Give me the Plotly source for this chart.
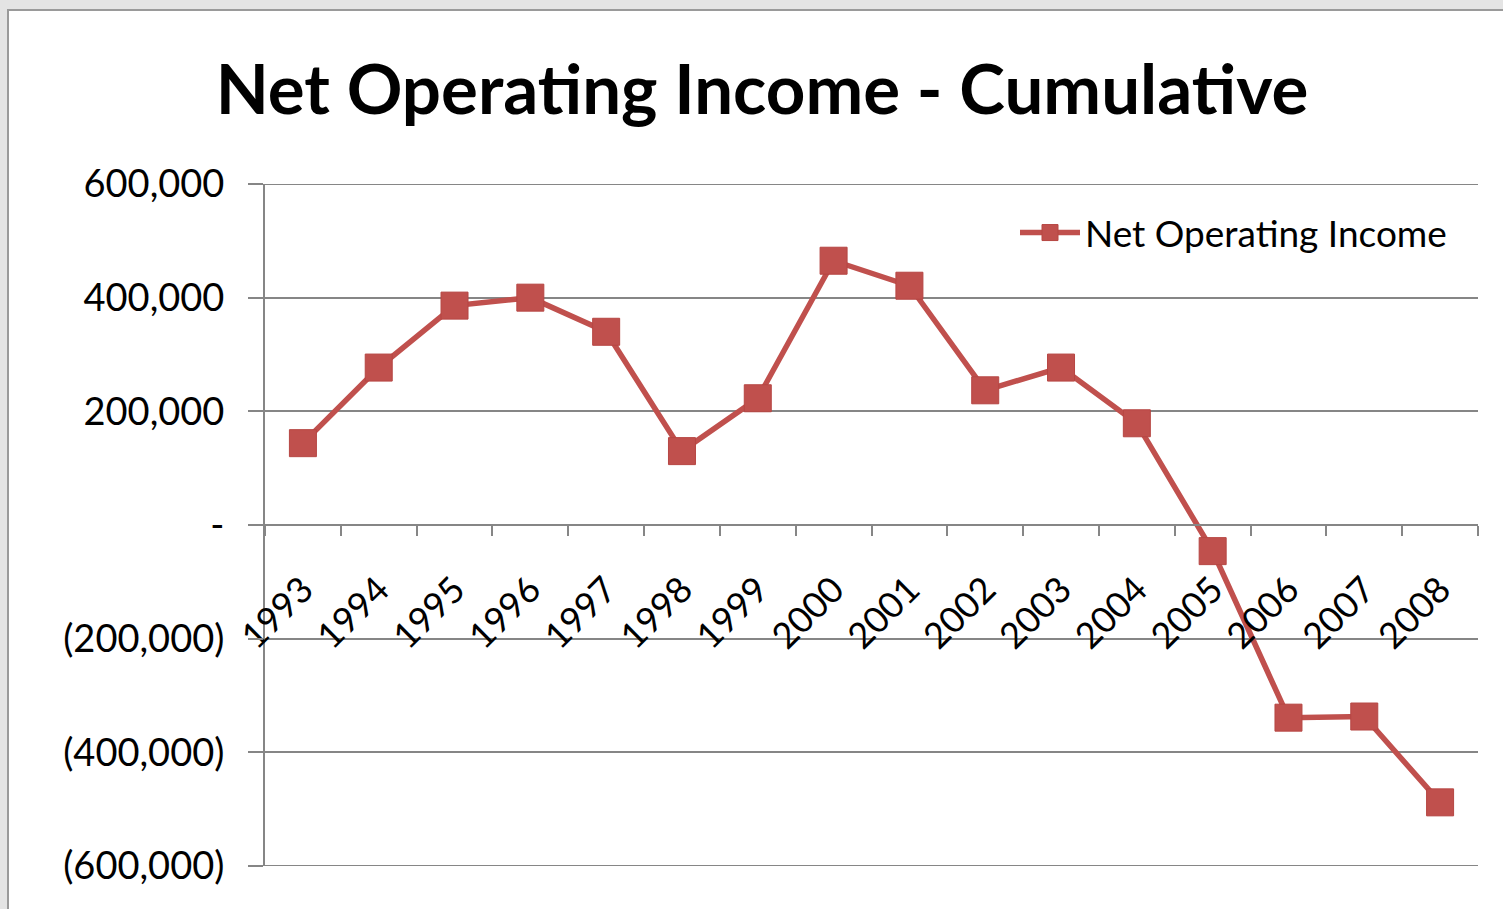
import plotly.graph_objects as go

years = ["1993", "1994", "1995", "1996", "1997", "1998", "1999", "2000",
         "2001", "2002", "2003", "2004", "2005", "2006", "2007", "2008"]
net_operating_income = [144000, 277000, 386000, 400000, 340000, 130000, 223000, 465000,
                        421000, 237000, 277000, 179000, -46000, -339000, -337000, -488000]
y_tick_values = [600000, 400000, 200000, 0, -200000, -400000, -600000]
y_tick_labels = ["600,000", "400,000", "200,000", "-", "(200,000)", "(400,000)", "(600,000)"]

W, H = 1503, 909
L, R, T, B = 265, 25, 184, 43
pw, ph = W - L - R, H - T - B


def px(x):
    return (x - L) / pw


def py(y):
    return (H - B - y) / ph


fig = go.Figure()
fig.add_trace(go.Scatter(
    x=years, y=net_operating_income, mode="lines+markers",
    name="Net Operating Income",
    line=dict(color="#c0504d", width=5.5),
    marker=dict(symbol="square", size=27, color="#c0504d",
                line=dict(color="#b64643", width=1)),
))

fig.add_shape(type="rect", xref="paper", yref="paper",
              x0=px(8), x1=px(1530), y0=py(940), y1=py(10),
              fillcolor="white", line=dict(color="#9a9a9a", width=2), layer="below")

# gridlines at the range ends (plotly omits them at the plot edges)
for v in (y_tick_values[0], y_tick_values[-1]):
    fig.add_shape(type="line", xref="paper", yref="y", x0=0, x1=1, y0=v, y1=v,
                  line=dict(color="#868686", width=2), layer="below")

fig.update_layout(
    width=W, height=H,
    margin=dict(l=L, r=R, t=T, b=B),
    paper_bgcolor="#e4e4e4", plot_bgcolor="rgba(0,0,0,0)",
    font=dict(family="Lato", color="black"),
    title=dict(text="<b>Net Operating Income - Cumulative</b>",
               x=px(762), xanchor="center", xref="paper",
               y=1 - 90 / H, yanchor="middle",
               font=dict(size=69, family="Lato", color="black")),
    showlegend=True,
    legend=dict(x=px(1452), xanchor="right", y=py(233), yanchor="middle",
                bgcolor="rgba(0,0,0,0)", font=dict(size=37, family="Lato"),
                itemwidth=60),
    xaxis=dict(type="category", range=[-0.5, 15.5], anchor="free", position=0.5,
               showgrid=False, showline=True, linecolor="#868686", linewidth=2,
               ticks="outside", tickson="boundaries", ticklen=10, tickwidth=2,
               tickcolor="#868686", tickangle=-45, ticklabelstandoff=28,
               tickfont=dict(size=36, family="Lato", color="black")),
    yaxis=dict(range=[-600000, 600000], domain=[0, 1],
               tickvals=y_tick_values, ticktext=y_tick_labels,
               showgrid=True, gridcolor="#868686", gridwidth=2,
               showline=True, linecolor="#868686", linewidth=2,
               ticks="outside", ticklen=15, tickwidth=2, tickcolor="#868686",
               ticklabelstandoff=16, zeroline=False,
               tickfont=dict(size=38, family="Lato", color="black")),
)

fig.write_html("out.html")
